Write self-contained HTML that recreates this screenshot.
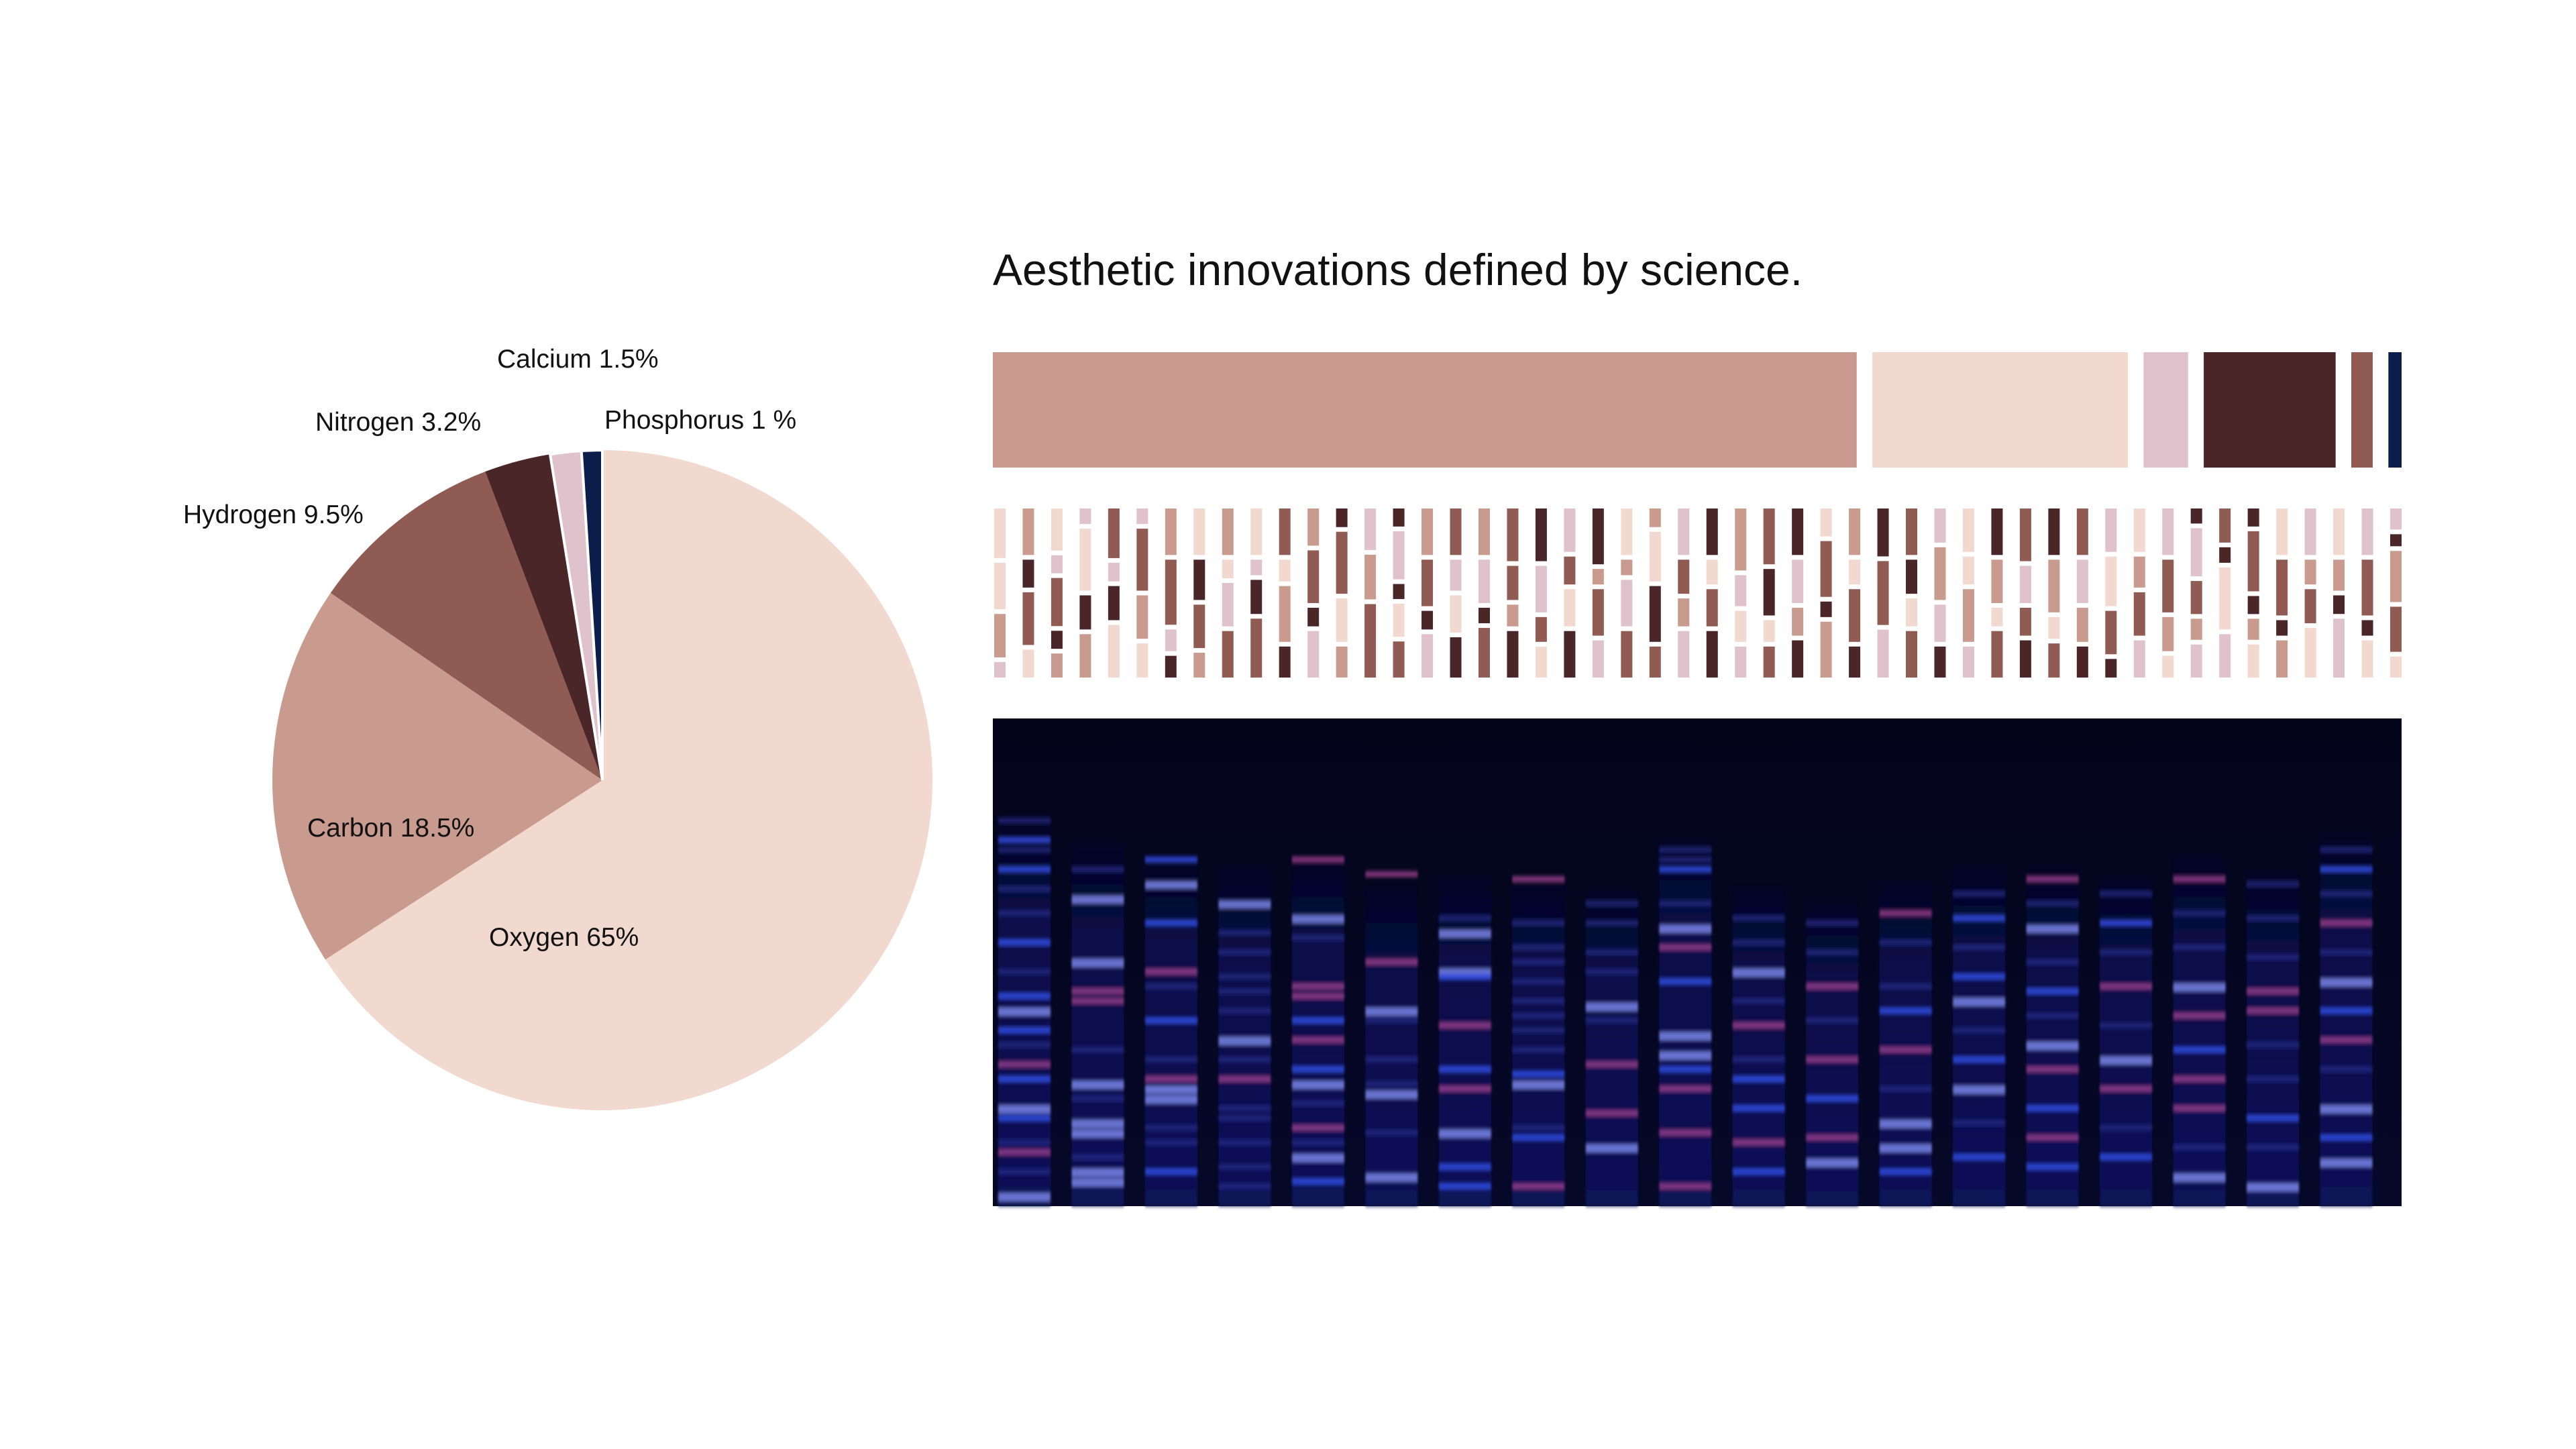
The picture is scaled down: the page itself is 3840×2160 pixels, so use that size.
<!DOCTYPE html>
<html><head><meta charset="utf-8">
<style>
html,body{margin:0;padding:0;background:#fff;}
body{width:3840px;height:2160px;overflow:hidden;position:relative;font-family:"Liberation Sans",sans-serif;}
svg{position:absolute;left:0;top:0;}
</style></head>
<body>
<svg id="chart" width="3840" height="2160" viewBox="0 0 3840 2160">
  <text x="1480" y="425" font-size="66" fill="#111" font-family="Liberation Sans, sans-serif">Aesthetic innovations defined by science.</text>
  <g id="pie"></g>
  <g id="pieLabels"></g>
  <g id="propBar"></g>
  <g id="stripes"></g>
  <defs>
    <linearGradient id="gelbg" x1="0" y1="0" x2="0" y2="1">
      <stop offset="0" stop-color="#03041a"/><stop offset="1" stop-color="#060828"/>
    </linearGradient>
    <linearGradient id="lanebg" x1="0" y1="0" x2="0" y2="1">
      <stop offset="0" stop-color="#060a35" stop-opacity="0.2"/><stop offset="0.25" stop-color="#080d48"/><stop offset="1" stop-color="#0a1258"/>
    </linearGradient>
    <filter id="blur" x="-5%" y="-50%" width="110%" height="200%"><feGaussianBlur stdDeviation="1.5 3"/></filter>
  </defs>
  <g id="gel"></g>
</svg>
<script>
const NS="http://www.w3.org/2000/svg";
// ---- pie data ----
const pieCategories=["Oxygen","Carbon","Hydrogen","Nitrogen","Calcium","Phosphorus"];
const pieValues=[65,18.5,9.5,3.2,1.5,1];
const pieLabelText=["Oxygen 65%","Carbon 18.5%","Hydrogen 9.5%","Nitrogen 3.2%","Calcium 1.5%","Phosphorus 1 %"];
const pieColors=["#f2d9cf","#c99a8e","#8f5b53","#4a2628","#dfc2cb","#0b1d4a"];
// ---- proportion bar data ----
const barCategories=["Carbon","Oxygen","Calcium","Nitrogen","Hydrogen","Phosphorus"];
const barValues=[524,155,27,80,13,8];
const barColors=["#c99a8e","#f2d9cf","#dfc2cb","#4a2628","#8f5b53","#0b1d4a"];
// ---- stripe data: color index + length per segment ----
const stripeColors=["#f2d9cf","#c99a8e","#8f5b53","#4a2628","#dfc2cb"];
const stripeColumns=[
"0:32,0:30,1:28,4:10","1:30,3:18,2:34,0:18","0:28,4:12,2:32,3:12,1:16","4:10,0:40,3:22,1:28","2:32,4:12,3:22,0:34",
"4:10,2:40,1:28,0:22","1:30,2:42,4:14,3:14","0:30,3:26,2:28,1:16","1:30,0:12,4:28,2:30","0:30,4:10,3:22,2:38",
"2:30,0:14,1:36,3:20","1:24,2:34,3:12,4:30","3:12,2:40,0:28,1:20","4:26,1:28,2:46","3:12,4:32,3:10,0:22,2:24",
"1:30,2:30,3:12,4:28","2:30,4:20,0:24,3:26","1:30,4:28,3:10,2:32","2:34,2:22,1:14,3:30","3:34,4:30,2:16,0:20",
"4:28,2:18,0:24,3:30","3:36,1:10,2:30,4:24","0:30,1:10,4:30,2:30","1:12,0:32,3:36,2:20","4:30,2:22,1:18,4:30",
"3:30,0:16,2:24,3:30","1:40,4:20,0:20,4:20","2:36,3:30,0:14,2:20","3:30,4:28,1:18,3:24","0:18,2:36,3:10,1:36",
"1:30,0:16,2:34,3:20","3:30,2:40,4:30","2:30,3:22,0:18,2:30","4:22,1:34,4:24,3:20","0:28,0:18,1:34,4:20",
"3:30,1:28,0:12,2:30","2:34,4:24,2:18,3:24","3:30,1:34,0:14,2:22","2:30,4:28,1:22,3:20","4:28,0:32,2:28,3:12",
"0:28,1:20,2:28,4:24","4:30,2:34,1:22,0:14","3:10,4:32,2:22,1:14,4:22","2:22,3:10,0:40,4:28","3:12,2:40,3:12,1:14,0:22",
"0:30,2:36,3:10,1:24","4:30,1:16,2:22,0:32","0:30,1:20,3:12,4:38","4:30,2:36,3:10,0:24","4:14,3:8,1:34,2:30,0:14"
];
// ---- gel data: lane top (fraction) and bands "pos:type" ----
const gelLaneTops=[20,25,28,30,28,34,32,33,35,24,34,37,33,30,30,32,28,31,23];
const gelLaneBands=[
"21:d,25:b,27:d,31:b,35:d,40:d,46:b,52:d,57:b,60:w,64:b,67:d,71:p,74:b,80:w,82:b,87:d,89:p,93:d,98:w",
"31:d,37:w,50:w,56:p,58:p,68:d,75:w,78:d,83:w,85:w,90:d,93:w,95:w",
"29:b,34:w,42:b,52:p,55:d,62:b,70:d,74:p,76:w,78:w,84:d,87:d,93:b",
"38:w,44:d,48:d,53:d,56:d,60:d,66:w,70:d,74:p,80:d,82:d,87:d,92:d,96:d",
"29:p,41:w,45:d,55:p,57:p,62:b,66:p,72:b,75:w,79:d,84:p,87:d,90:w,95:b",
"32:p,50:p,60:w,62:d,70:d,75:d,77:w,85:d,94:w",
"41:d,44:w,52:w,53:b,63:p,72:b,76:p,85:w,92:b,96:b",
"33:p,42:d,47:d,50:d,54:d,58:d,61:d,64:d,68:d,73:b,75:w,84:d,86:b,96:p",
"38:d,42:d,48:d,52:d,59:w,62:d,71:p,81:p,88:w",
"27:d,29:d,31:b,38:d,43:w,47:p,54:b,65:w,69:w,72:b,76:p,85:p,96:p",
"41:d,46:d,52:w,58:d,63:p,70:d,74:b,80:b,87:p,93:b",
"42:d,48:d,55:p,62:d,70:p,78:b,86:p,91:w",
"40:p,46:d,55:d,60:b,68:p,76:d,83:w,88:w,93:b",
"36:d,41:b,47:d,53:b,58:w,64:d,70:b,76:w,83:d,90:b",
"33:p,38:d,43:w,50:d,56:b,61:d,67:w,72:p,80:b,86:p,92:b",
"36:d,42:b,48:d,55:p,63:d,70:w,76:p,84:d,90:b",
"33:p,40:d,47:d,55:w,61:p,68:b,74:p,80:p,88:d,94:w",
"34:d,41:d,49:d,56:p,60:p,67:d,74:d,82:b,88:d,96:w",
"27:d,31:b,36:d,42:p,48:d,54:w,60:b,66:p,72:d,80:w,86:b,91:w"
];
const bandColors={b:"#3450e8",w:"#7f8cf0",d:"#262c88",p:"#9a3f8c"};

function el(tag,attrs,parent){const e=document.createElementNS(NS,tag);for(const k in attrs)e.setAttribute(k,attrs[k]);parent.appendChild(e);return e;}

// ---- pie ----
const cx=898,cy=1163,R=492;
const total=pieValues.reduce((a,b)=>a+b,0);
const angleScale=v=>v/total*Math.PI*2;
let a0=0;
const pieG=document.getElementById("pie");
const labG=document.getElementById("pieLabels");
const labelPos=[[729,1410],[458,1247],[273,780],[470,642],[741,548],[901,639]];
pieValues.forEach((v,i)=>{
  const a1=a0+angleScale(v);
  const x0=cx+R*Math.sin(a0),y0=cy-R*Math.cos(a0),x1=cx+R*Math.sin(a1),y1=cy-R*Math.cos(a1);
  const large=(a1-a0)>Math.PI?1:0;
  const p=el("path",{d:`M${cx},${cy}L${x0},${y0}A${R},${R} 0 ${large} 1 ${x1},${y1}Z`,fill:pieColors[i],stroke:"#fff","stroke-width":i>=4?4:0},pieG);
  
  
  const t=el("text",{x:labelPos[i][0],y:labelPos[i][1],"font-size":39,fill:"#111"},labG);
  t.textContent=pieLabelText[i];
  
  
  a0=a1;
});

// ---- proportion bar ----
const bx0=1480,bx1=3580,gapUnits=9.5;
const barTotal=barValues.reduce((a,b)=>a+b,0)+gapUnits*(barValues.length-1);
const xs=v=>v/barTotal*(bx1-bx0);
let bx=bx0;
const barG=document.getElementById("propBar");
barValues.forEach((v,i)=>{
  const r=el("rect",{x:bx,y:525,width:xs(v),height:172,fill:barColors[i]},barG);
  
  
  bx+=xs(v)+xs(gapUnits);
});

// ---- stripes ----
const sY0=758,sH=252,sX0=1482,sStep=(3580-1482-17)/(stripeColumns.length-1),sW=17,sGap=7;
const stG=document.getElementById("stripes");
stripeColumns.forEach((col,i)=>{
  const segs=col.split(",").map(s=>s.split(":").map(Number));
  const sum=segs.reduce((a,s)=>a+s[1],0);
  const avail=sH-sGap*(segs.length-1);
  let y=sY0;
  segs.forEach(([c,l],j)=>{
    const h=l/sum*avail;
    const r=el("rect",{x:sX0+i*sStep,y:y,width:sW,height:h,fill:stripeColors[c]},stG);
    
    
    y+=h+sGap;
  });
});

// ---- gel ----
const gX=1480,gY=1071,gW=2100,gH=727;
const gelG=document.getElementById("gel");
const bg=el("rect",{x:gX,y:gY,width:gW,height:gH,fill:"url(#gelbg)"},gelG);


const laneStep=(gW-20)/gelLaneTops.length,laneW=78;
const gy=p=>gY+p/100*gH;
const bandsG=el("g",{filter:"url(#blur)"},gelG);


gelLaneTops.forEach((top,i)=>{
  const lx=gX+8+i*laneStep;
  const lane=el("rect",{x:lx,y:gy(top),width:laneW,height:gY+gH-gy(top),fill:"url(#lanebg)"},bandsG);
  
  
  gelLaneBands[i].split(",").forEach(b=>{
    const [pos,type]=b.split(":");
    const r=el("rect",{x:lx,y:gy(+pos)-5,width:laneW,height:type==="w"?12:9,fill:bandColors[type],opacity:type==="d"?0.7:0.8},bandsG);
    
    
  });
});
</script>
</body></html>
